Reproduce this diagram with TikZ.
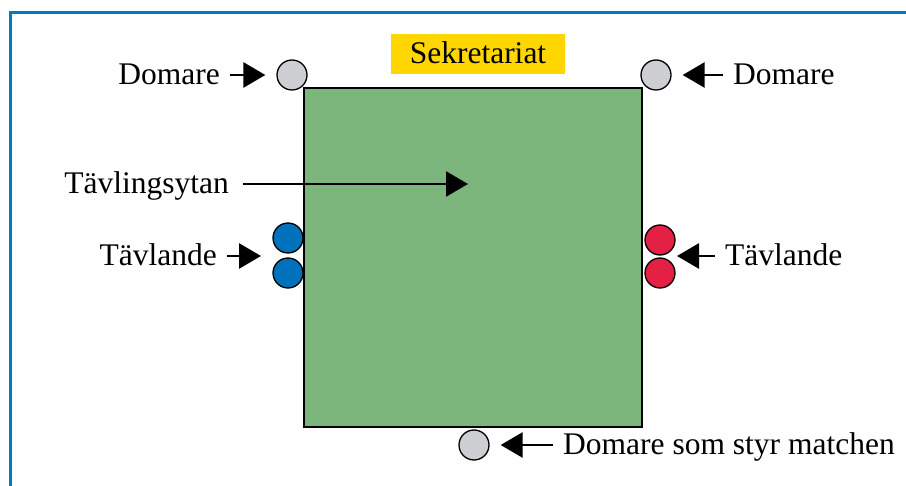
\documentclass[tikz,border=0pt]{standalone}
\usepackage{fontspec}
\setmainfont{Liberation Serif}
\usetikzlibrary{arrows.meta}
\definecolor{frameblue}{RGB}{0,122,194}
\definecolor{fieldgreen}{RGB}{125,182,125}
\definecolor{refgrey}{RGB}{206,207,211}
\definecolor{teamblue}{RGB}{0,114,188}
\definecolor{teamred}{RGB}{228,32,68}
\definecolor{sekyellow}{RGB}{255,214,0}
\begin{document}
\begin{tikzpicture}[x=1pt,y=-1pt,
	arr/.style={line width=2.8pt,-{Triangle[length=22pt,width=25pt]},shorten <=10pt,shorten >=11pt},
	txt/.style={inner sep=0pt,text depth=0.22em,font=\fontsize{31.5}{36}\selectfont}]
			\useasboundingbox (0,0) rectangle (906,486);
			\draw[frameblue,line width=3pt] (10,486) -- (10,13) -- (906,13);
			
			\node (field) at (473,257.5) [draw,line width=2.8pt,fill=fieldgreen,
				minimum width=338pt,minimum height=339pt,inner sep=0pt]{};
			\node (sek) at (478,54) [txt,fill=sekyellow,minimum width=174pt,minimum height=40pt]{Sekretariat};
			
			\begin{scope}[every node/.style={circle,draw,line width=1.3pt,
				inner sep=0pt, minimum size=30pt}]
			\node (refTL) at (292,75) [fill=refgrey]{};
			\node (refTR) at (656,75) [fill=refgrey]{};
			\node (refB) at (474,445) [fill=refgrey]{};
			\node (blue1) at (288,238) [fill=teamblue]{};
			\node (blue2) at (288,273) [fill=teamblue]{};
			\node (red1) at (660,240) [fill=teamred]{};
			\node (red2) at (660,273) [fill=teamred]{};
			\end{scope}
			
			\node (domTL) at (220,75) [txt,anchor=east]{Domare};
			\node (domTR) at (733,75) [txt,anchor=west]{Domare};
			\node (domB) at (563,445) [txt,anchor=west]{Domare som styr matchen};
			\node (tavL) at (217,256) [txt,anchor=east]{Tävlande};
			\node (tavR) at (725,256) [txt,anchor=west]{Tävlande};
			\node (yta) at (229,184) [txt,anchor=east]{Tävlingsytan};
			\coordinate (tipL) at (272,256);
			\coordinate (tipR) at (666,256);
			\coordinate (ytaend) at (468,184);
			
			\path (domTL) edge[arr] (refTL);
			\path (domTR) edge[arr] (refTR);
			\path (domB) edge[arr] (refB);
			\path (tavL) edge[arr] (tipL);
			\path (tavR) edge[arr] (tipR);
			\path (yta) edge[arr,shorten <=14pt,shorten >=0pt] (ytaend);
			\end{tikzpicture}
\end{document}
